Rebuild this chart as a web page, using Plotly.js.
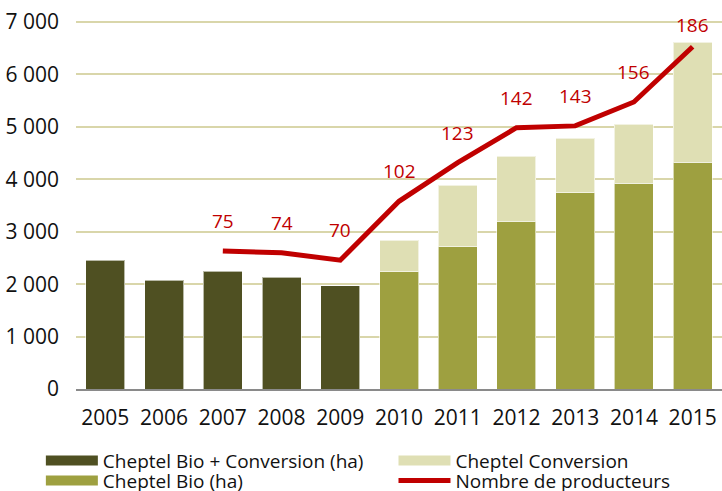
<!DOCTYPE html>
<html>
<head>
<meta charset="utf-8">
<script src="https://cdn.plot.ly/plotly-3.0.1.min.js"></script>
<style>html,body{margin:0;padding:0;background:#fff;}#chart{width:722px;height:491px;}</style>
</head>
<body>
<div id="chart"></div>
<script>
// ---- data ----
const years = ['2005','2006','2007','2008','2009','2010','2011','2012','2013','2014','2015'];
const cheptelBioConv = [2460, 2075, 2245, 2130, 1965, null, null, null, null, null, null];
const cheptelBio = [null, null, null, null, null, 2232, 2714, 3198, 3745, 3923, 4323];
const cheptelConversion = [null, null, null, null, null, 610, 1171, 1246, 1036, 1125, 2290];
const producteurs = [null, null, 75, 74, 70, 102, 123, 142, 143, 156, 186];
const yTicks = [0, 1000, 2000, 3000, 4000, 5000, 6000, 7000];

const cDark = '#4f5022', cOlive = '#9ea040', cLight = '#dfdfb4', cRed = '#c00000';
const font = 'Open Sans, sans-serif';
const edge = {color:'rgba(255,255,255,0.6)', width:1};

const traces = [
  {type:'bar', x:years, y:cheptelBioConv, marker:{color:cDark, line:edge}, showlegend:false, hoverinfo:'skip'},
  {type:'bar', x:years, y:cheptelBio, marker:{color:cOlive, line:edge}, showlegend:false, hoverinfo:'skip'},
  {type:'bar', x:years, y:cheptelConversion, marker:{color:cLight, line:edge}, showlegend:false, hoverinfo:'skip'},
  {type:'scatter', mode:'lines', x:years, y:producteurs, yaxis:'y2', line:{color:cRed, width:5}, connectgaps:false, name:'Nombre de producteurs', legend:'legend4', hoverinfo:'skip'},
  // legend-only entries for the bar series (wide swatches like the reference)
  {type:'scatter', mode:'lines', x:[years[0]], y:[null], line:{color:cDark, width:10}, name:'Cheptel Bio + Conversion (ha)', legend:'legend', hoverinfo:'skip'},
  {type:'scatter', mode:'lines', x:[years[0]], y:[null], line:{color:cLight, width:10}, name:'Cheptel Conversion', legend:'legend2', hoverinfo:'skip'},
  {type:'scatter', mode:'lines', x:[years[0]], y:[null], line:{color:cOlive, width:11}, name:'Cheptel Bio (ha)', legend:'legend3', hoverinfo:'skip'}
];

const annotations = [];
producteurs.forEach((v, i) => {
  if (v === null) return;
  annotations.push({x: i, y: v, xref:'x', yref:'y2', text: String(v), showarrow:false,
    yshift: (i === producteurs.length - 1) ? 22 : 30,
    font:{family:font, size:19, color:cRed}});
});

function leg(x, y) {
  return {xref:'container', yref:'container', x:x, y:y, xanchor:'left', yanchor:'middle',
    orientation:'h', bgcolor:'rgba(0,0,0,0)', borderwidth:0, itemwidth:52,
    font:{family:font, size:19, color:'#111'}};
}

const layout = {
  width:722, height:491,
  margin:{l:76, r:0, t:21, b:102, pad:0},
  paper_bgcolor:'#fff', plot_bgcolor:'#fff',
  barmode:'stack', bargap:0.336,
  separators:', ',
  font:{family:font, size:21, color:'#111'},
  xaxis:{type:'category', categoryorder:'array', categoryarray:years, range:[-0.5, years.length - 0.5],
    showgrid:false, showline:true, linecolor:'#8a8a8a', linewidth:2,
    ticks:'', ticklabelstandoff:9, tickfont:{family:font, size:21, color:'#111'}, fixedrange:true},
  yaxis:{range:[0,7020], tickvals:yTicks, tickformat:',d', showgrid:true, gridcolor:'#d9d6aa', gridwidth:2,
    zeroline:false, showline:false, ticks:'', ticklabelstandoff:16,
    tickfont:{family:font, size:21, color:'#111'}, fixedrange:true},
  yaxis2:{overlaying:'y', range:[0,200], visible:false, fixedrange:true},
  showlegend:true,
  legend: leg(0.0566, 0.062),
  legend2: leg(0.545, 0.062),
  legend3: leg(0.0566, 0.021),
  legend4: leg(0.545, 0.021),
  annotations: annotations
};

Plotly.newPlot('chart', traces, layout, {displayModeBar:false, staticPlot:true});
</script>
</body>
</html>
